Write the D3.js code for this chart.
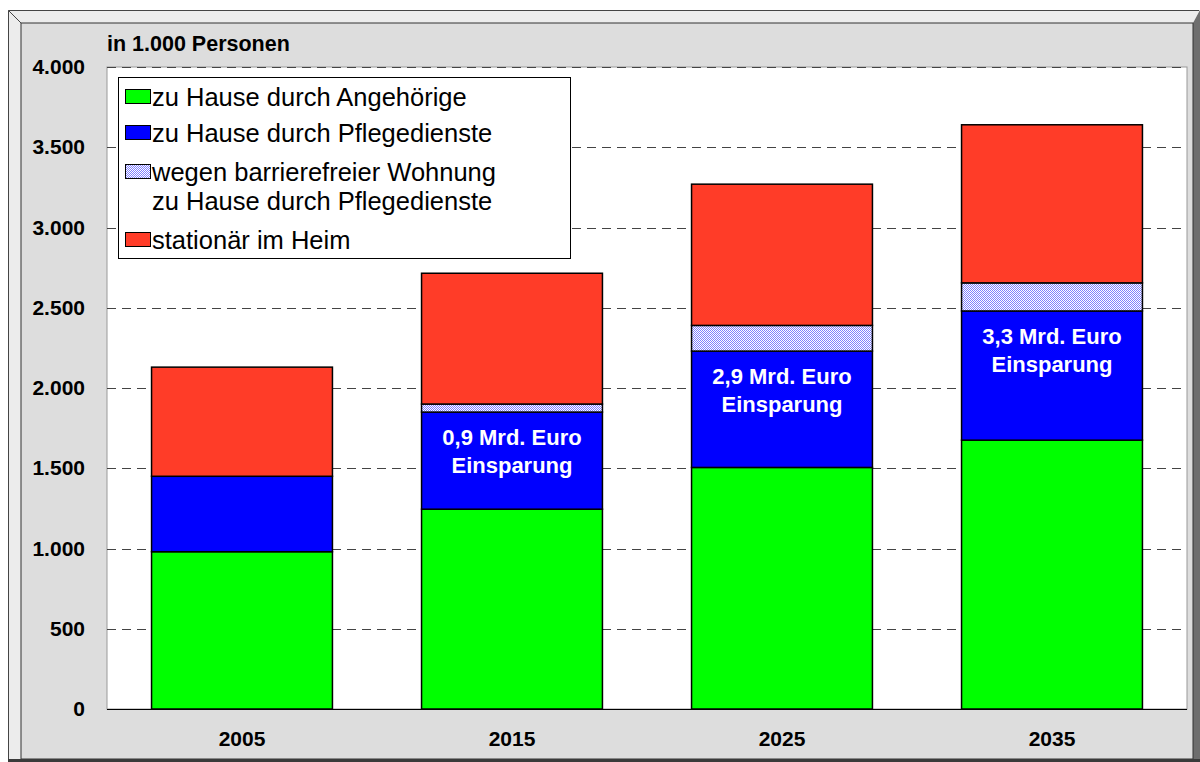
<!DOCTYPE html>
<html>
<head>
<meta charset="utf-8">
<script src="https://cdn.jsdelivr.net/npm/d3@7"></script>
<style>
    html, body { margin: 0; padding: 0; background: #ffffff; }
    svg { display: block; font-family: "Liberation Sans", Arial, sans-serif; }
</style>
</head>
<body>
<div id="chart"></div>
<script>
// Data (in 1.000 Personen)
const years = ["2005", "2015", "2025", "2035"];
const angehoerige = [980, 1245, 1505, 1675];
const pflegedienste = [470, 605, 725, 805];
const barrierefrei = [0, 50, 160, 175];
const heim = [680, 815, 880, 985];
const savings = [null, "0,9 Mrd. Euro", "2,9 Mrd. Euro", "3,3 Mrd. Euro"];
const yTicks = [0, 500, 1000, 1500, 2000, 2500, 3000, 3500, 4000];
const seriesNames = [
    ["zu Hause durch Angehörige"],
    ["zu Hause durch Pflegedienste"],
    ["wegen barrierefreier Wohnung", "zu Hause durch Pflegedienste"],
    ["stationär im Heim"]
];

const width = 1200;
const height = 762;
const plot = { left: 107, right: 1187, top: 67, bottom: 709 };

const svg = d3.select("#chart")
    .append("svg")
    .attr("width", width)
    .attr("height", height);

// Hatch pattern for the "barrierefrei" segment
const defs = svg.append("defs");
const pat = defs.append("pattern")
    .attr("id", "hatch")
    .attr("width", 2)
    .attr("height", 2)
    .attr("patternUnits", "userSpaceOnUse");
pat.append("rect").attr("width", 2).attr("height", 2).attr("fill", "#ffffff");
pat.append("rect").attr("width", 1).attr("height", 1).attr("fill", "#8080ff");
pat.append("rect").attr("x", 1).attr("y", 1).attr("width", 1).attr("height", 1).attr("fill", "#8080ff");

const fills = ["#00ff00", "#0000ff", "url(#hatch)", "#ff3c28"];

// Bevelled frame
svg.append("polygon")
    .attr("points", "8,10 1200,10 1193,23 21,23 21,759 8,762")
    .attr("fill", "#ececec");
svg.append("polygon")
    .attr("points", "1200,10 1200,762 8,762 21,759 1193,759 1193,23")
    .attr("fill", "#6e6e6e");
svg.append("rect")
    .attr("x", 21).attr("y", 23)
    .attr("width", 1172).attr("height", 736)
    .attr("fill", "#dddddd")
    .attr("stroke", "#333")
    .attr("stroke-width", 1);
svg.append("path")
    .attr("d", "M8.5,10.5 H1199 M8.5,10.5 V762 M8.5,10.5 L21,23")
    .attr("stroke", "#444").attr("fill", "none");
svg.append("rect")
    .attr("x", 8).attr("y", 759)
    .attr("width", 1192).attr("height", 3)
    .attr("fill", "#3a3a3a");

// Plot area
svg.append("rect")
    .attr("x", plot.left).attr("y", plot.top)
    .attr("width", plot.right - plot.left)
    .attr("height", plot.bottom - plot.top)
    .attr("fill", "#ffffff")
    .attr("stroke", "#999")
    .attr("stroke-width", 1);

const x = d3.scaleBand()
    .domain(years)
    .range([plot.left, plot.right])
    .paddingInner(0.33)
    .paddingOuter(0.165);

const y = d3.scaleLinear()
    .domain([0, 4000])
    .range([plot.bottom, plot.top]);

// Gridlines
svg.append("g")
    .selectAll("line")
    .data(yTicks.filter(d => d > 0))
    .enter()
    .append("line")
    .attr("x1", plot.left)
    .attr("x2", plot.right)
    .attr("y1", d => Math.round(y(d)) + 0.5)
    .attr("y2", d => Math.round(y(d)) + 0.5)
    .attr("stroke", "#444")
    .attr("stroke-width", 1)
    .attr("stroke-dasharray", "9,6");

// Stacked bars
const rows = years.map((yr, i) => ({
    year: yr,
    a: angehoerige[i],
    p: pflegedienste[i],
    b: barrierefrei[i],
    h: heim[i]
}));
const stack = d3.stack().keys(["a", "p", "b", "h"]);
const layers = stack(rows);

layers.forEach((layer, li) => {
    svg.append("g")
        .selectAll("rect")
        .data(layer.filter(d => d[1] > d[0]))
        .enter()
        .append("rect")
        .attr("x", d => x(d.data.year))
        .attr("width", x.bandwidth())
        .attr("y", d => y(d[1]))
        .attr("height", d => y(d[0]) - y(d[1]))
        .attr("fill", fills[li])
        .attr("stroke", "#000")
        .attr("stroke-width", 1.5);
});

// Savings labels inside the blue segment
const blue = layers[1];
years.forEach((yr, i) => {
    if (!savings[i]) return;
    const cx = x(yr) + x.bandwidth() / 2;
    const top = y(blue[i][1]);
    const t = svg.append("text")
        .attr("text-anchor", "middle")
        .attr("fill", "#ffffff")
        .attr("font-weight", "bold")
        .attr("font-size", "22px");
    t.append("tspan").attr("x", cx).attr("y", top + 33).text(savings[i]);
    t.append("tspan").attr("x", cx).attr("y", top + 61).text("Einsparung");
});

// Axis baseline
svg.append("line")
    .attr("x1", plot.left).attr("x2", plot.right)
    .attr("y1", plot.bottom + 0.5).attr("y2", plot.bottom + 0.5)
    .attr("stroke", "#000");

// Y axis labels
const yAxis = d3.axisLeft(y)
    .tickValues(yTicks)
    .tickSize(0)
    .tickPadding(22)
    .tickFormat(d => d3.format(",")(d).replace(/,/g, "."));
const gy = svg.append("g")
    .attr("transform", `translate(${plot.left},0)`)
    .call(yAxis);
gy.select(".domain").remove();
gy.selectAll("text")
    .attr("font-family", "Liberation Sans, Arial, sans-serif")
    .attr("font-size", "21px")
    .attr("font-weight", "bold")
    .attr("fill", "#000");

// X axis labels
const xAxis = d3.axisBottom(x).tickSize(0).tickPadding(22);
const gx = svg.append("g")
    .attr("transform", `translate(0,${plot.bottom})`)
    .call(xAxis);
gx.select(".domain").remove();
gx.selectAll("text")
    .attr("font-family", "Liberation Sans, Arial, sans-serif")
    .attr("font-size", "21px")
    .attr("font-weight", "bold")
    .attr("fill", "#000");

// Unit title
svg.append("text")
    .attr("x", 107)
    .attr("y", 51)
    .attr("font-size", "21.5px")
    .attr("font-weight", "bold")
    .text("in 1.000 Personen");

// Legend
const legend = svg.append("g").attr("transform", "translate(118,77)");
legend.append("rect")
    .attr("x", 0.5).attr("y", 0.5)
    .attr("width", 452).attr("height", 181)
    .attr("fill", "#ffffff")
    .attr("stroke", "#000");

const rowY = [20, 56, 95, 124, 163];
let r = 0;
seriesNames.forEach((lines, i) => {
    const cy = rowY[r];
    legend.append("rect")
        .attr("x", 7.5).attr("y", cy - 7.5)
        .attr("width", 25).attr("height", 14)
        .attr("fill", fills[i])
        .attr("stroke", "#000")
        .attr("stroke-width", 1);
    lines.forEach((txt, k) => {
        legend.append("text")
            .attr("x", 34)
            .attr("y", rowY[r + k])
            .attr("dy", "0.35em")
            .attr("font-size", "25.5px")
            .text(txt);
    });
    r += lines.length;
});
</script>
</body>
</html>
